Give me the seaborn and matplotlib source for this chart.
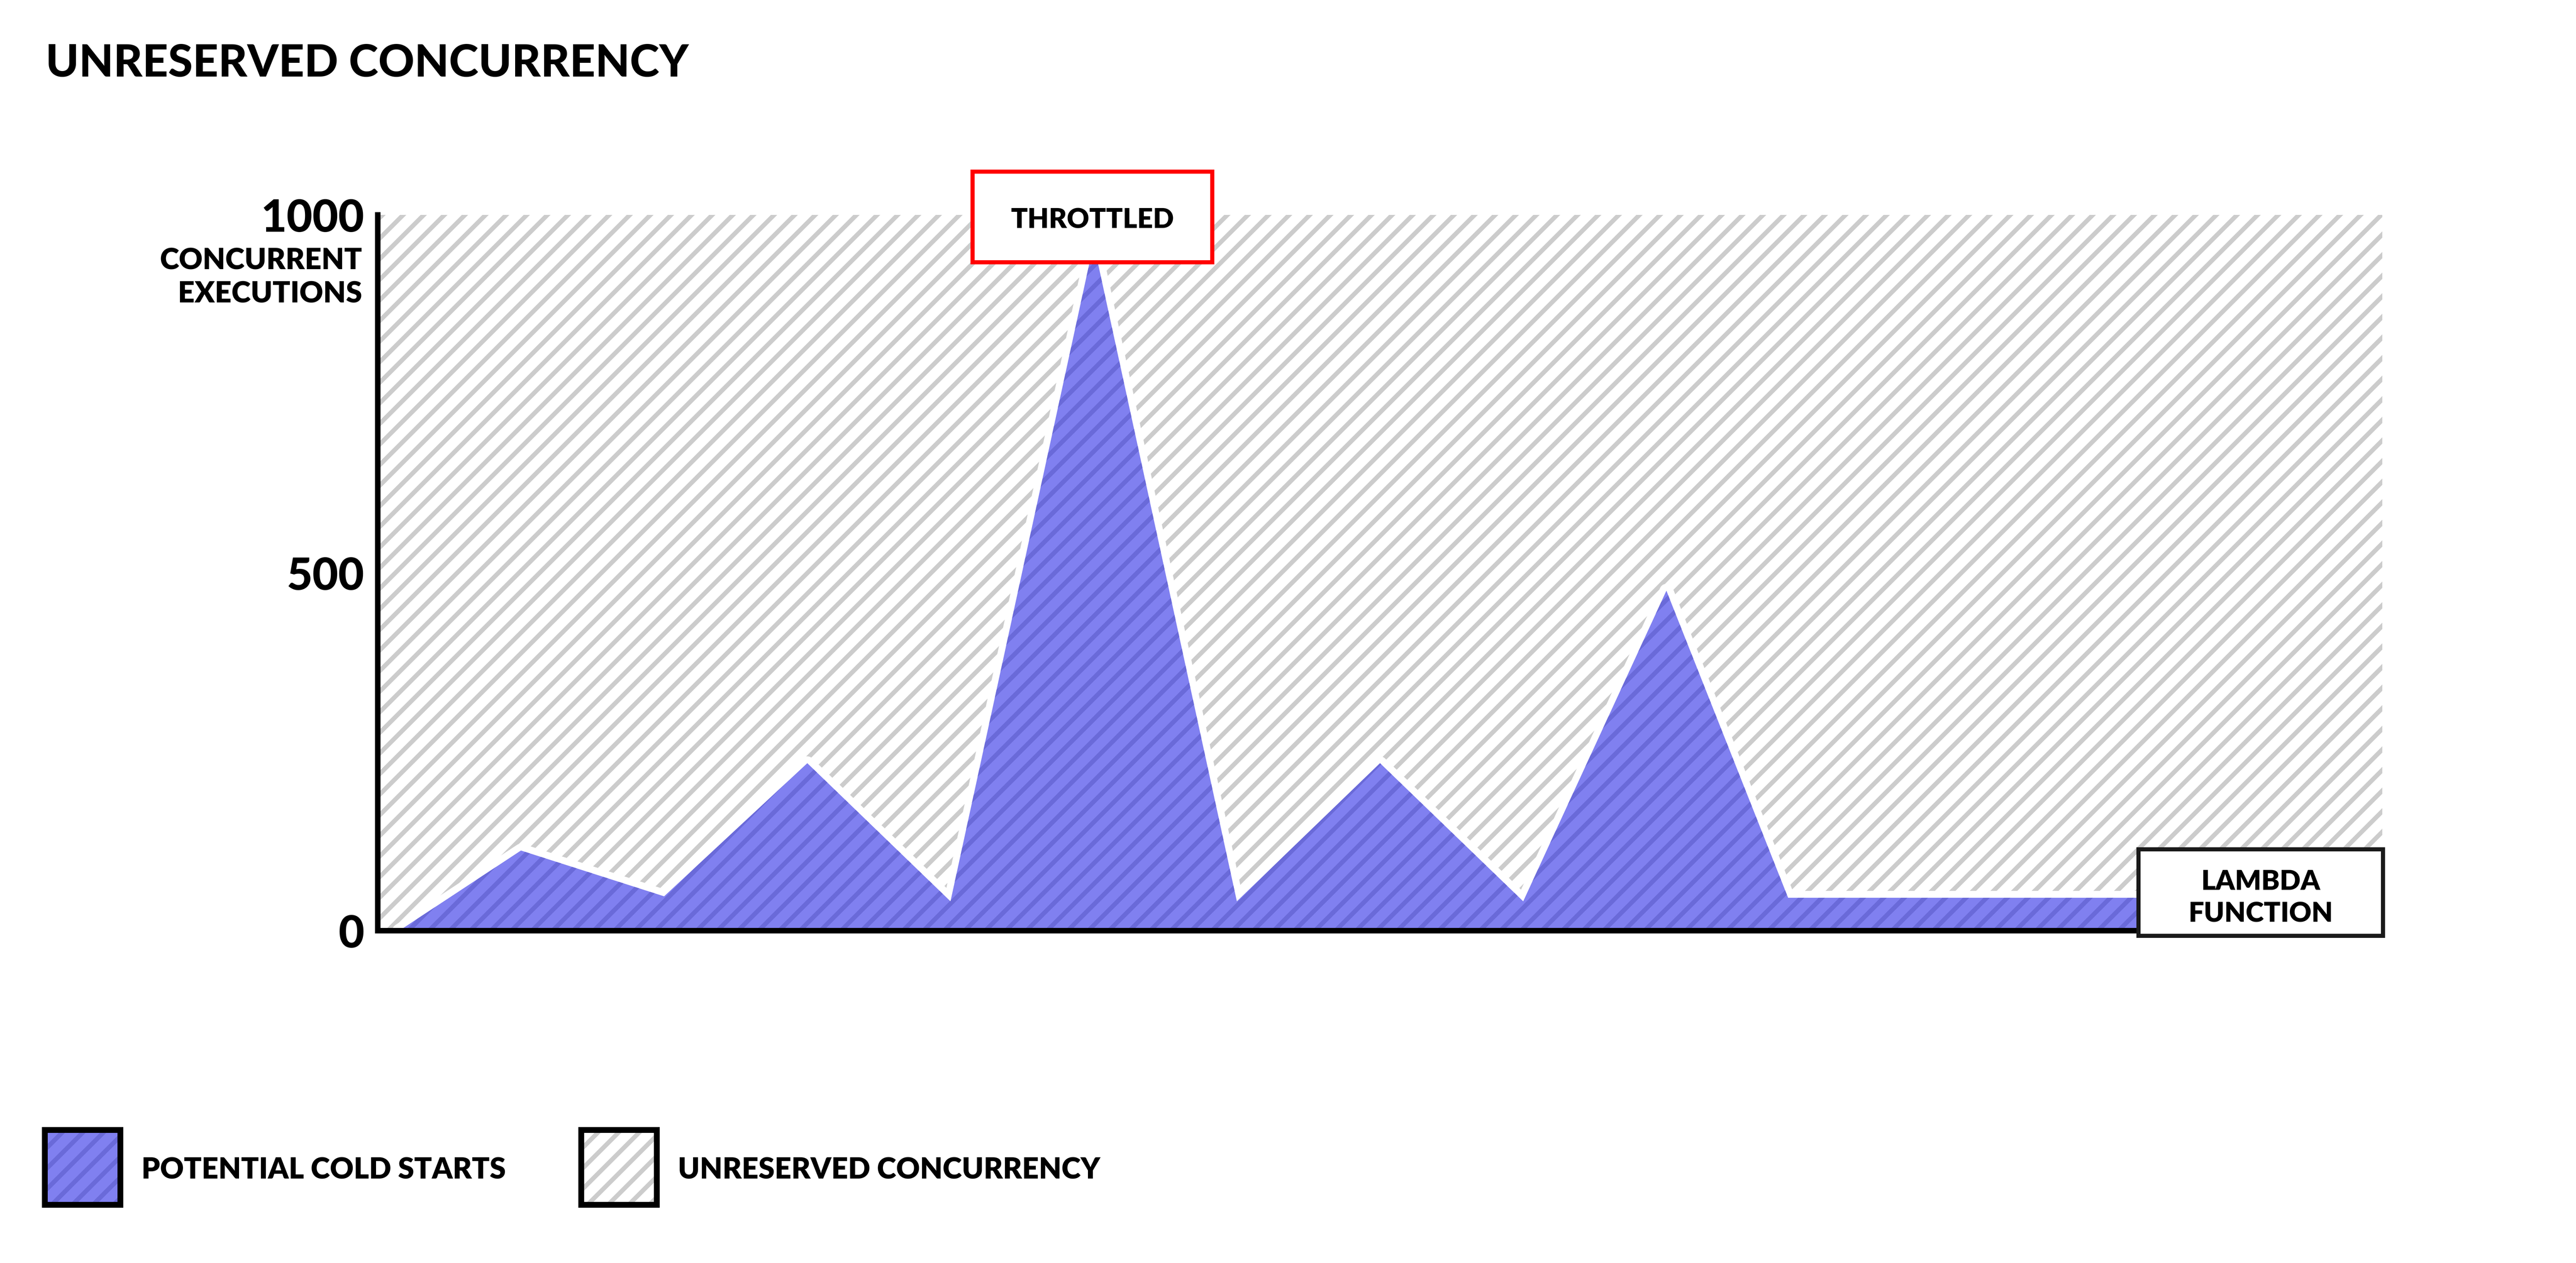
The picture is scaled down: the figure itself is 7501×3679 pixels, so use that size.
import numpy as np
import pandas as pd
import seaborn as sns
import matplotlib.pyplot as plt
from matplotlib.patches import Rectangle

# ---- data ----
time = [0.15, 1.0, 2.0, 3.0, 4.0, 5.0, 6.0, 7.0, 8.0, 9.0, 9.85, 14.0]
executions = [0, 112, 48, 234, 41, 960, 41, 234, 41, 475, 46, 46]
account_limit = 1000
y_ticks = [0, 500, 1000]
y_ticklabels = ["0", "500", "1000"]
legend_labels = ["POTENTIAL COLD STARTS", "UNRESERVED CONCURRENCY"]

df = pd.DataFrame({"time": time, "executions": executions})

PURPLE = "#8080f0"
PURPLE_HATCH = "#6a6ad9"
GREY_HATCH = "#cccccc"

sns.set_theme(style="white")
plt.rcParams["font.family"] = ["Lato", "DejaVu Sans"]
plt.rcParams["hatch.linewidth"] = 2.6

W, H, DPI = 7501, 3680, 360
fig = plt.figure(figsize=(W / DPI, H / DPI), dpi=DPI)
fig.patch.set_facecolor("white")

def fx(px):
    return px / W

def fy(py):
    return 1 - py / H

# axes box in pixels of the reference
ax_l, ax_r, ax_t, ax_b = 1100, 6937, 627, 2712
ax = fig.add_axes([fx(ax_l), fy(ax_b), fx(ax_r - ax_l), (ax_b - ax_t) / H])
ax.set_facecolor("white")

x_max = 14
# unreserved concurrency: the whole pool up to the limit
ax.fill_between([0, x_max], [account_limit, account_limit], 0,
                facecolor="white", edgecolor=GREY_HATCH, hatch="//",
                linewidth=0, zorder=1)
# white outline that separates the two areas
sns.lineplot(data=df, x="time", y="executions", color="white",
             linewidth=8, zorder=2, ax=ax, legend=False)
# potential cold starts
ax.fill_between(df["time"], df["executions"], 0,
                facecolor=PURPLE, edgecolor=PURPLE_HATCH, hatch="//",
                linewidth=0, zorder=3)

ax.set_xlim(0, x_max)
ax.set_ylim(0, account_limit)
ax.set_xticks([])
ax.set_yticks(y_ticks)
ax.set_yticklabels(y_ticklabels, fontsize=26, fontweight="black")
ax.tick_params(axis="y", length=0, pad=8, colors="black")
ax.set_xlabel("")
ax.set_ylabel("")
for side in ["top", "right"]:
    ax.spines[side].set_visible(False)
for side in ["left", "bottom"]:
    ax.spines[side].set_color("black")
    ax.spines[side].set_linewidth(3.2)
    ax.spines[side].set_zorder(5)

# title and axis label
fig.text(fx(133), fy(185), "UNRESERVED CONCURRENCY", ha="left", va="center",
         fontsize=26, fontweight="black", color="black")
fig.text(fx(1054), fy(808), "CONCURRENT\nEXECUTIONS", ha="right", va="center",
         fontsize=17, fontweight="heavy", color="black", linespacing=1.3)

# callout boxes
def callout(x0, y0, x1, y1, text, edge, dy):
    fig.add_artist(Rectangle((fx(x0), fy(y1)), fx(x1 - x0), (y1 - y0) / H,
                             transform=fig.transFigure, facecolor="white",
                             edgecolor=edge, linewidth=2.4, zorder=6))
    fig.text(fx((x0 + x1) / 2), fy((y0 + y1) / 2 + dy), text, ha="center",
             va="center", fontsize=16, fontweight="heavy", color="black",
             linespacing=1.35, zorder=7)

callout(2832, 501, 3530, 765, "THROTTLED", "#ff0000", 8)
callout(6227, 2475, 6939, 2727, "LAMBDA\nFUNCTION", "#1a1a1a", 14)

# legend swatches
def swatch(x0, label, face, hatch_col):
    y0, y1 = 3292, 3510
    w = 220
    fig.add_artist(Rectangle((fx(x0), fy(y1)), fx(w), (y1 - y0) / H,
                             transform=fig.transFigure, facecolor=face,
                             edgecolor=hatch_col, hatch="//", linewidth=0,
                             zorder=6))
    fig.add_artist(Rectangle((fx(x0), fy(y1)), fx(w), (y1 - y0) / H,
                             transform=fig.transFigure, facecolor="none",
                             edgecolor="black", linewidth=3.4, zorder=7))
    fig.text(fx(x0 + w + 62), fy((y0 + y1) / 2 + 8), label, ha="left",
             va="center", fontsize=17, fontweight="heavy", color="black")

swatch(130, legend_labels[0], PURPLE, PURPLE_HATCH)
swatch(1692, legend_labels[1], "white", GREY_HATCH)

fig.savefig("out.png", dpi=DPI, facecolor="white")
